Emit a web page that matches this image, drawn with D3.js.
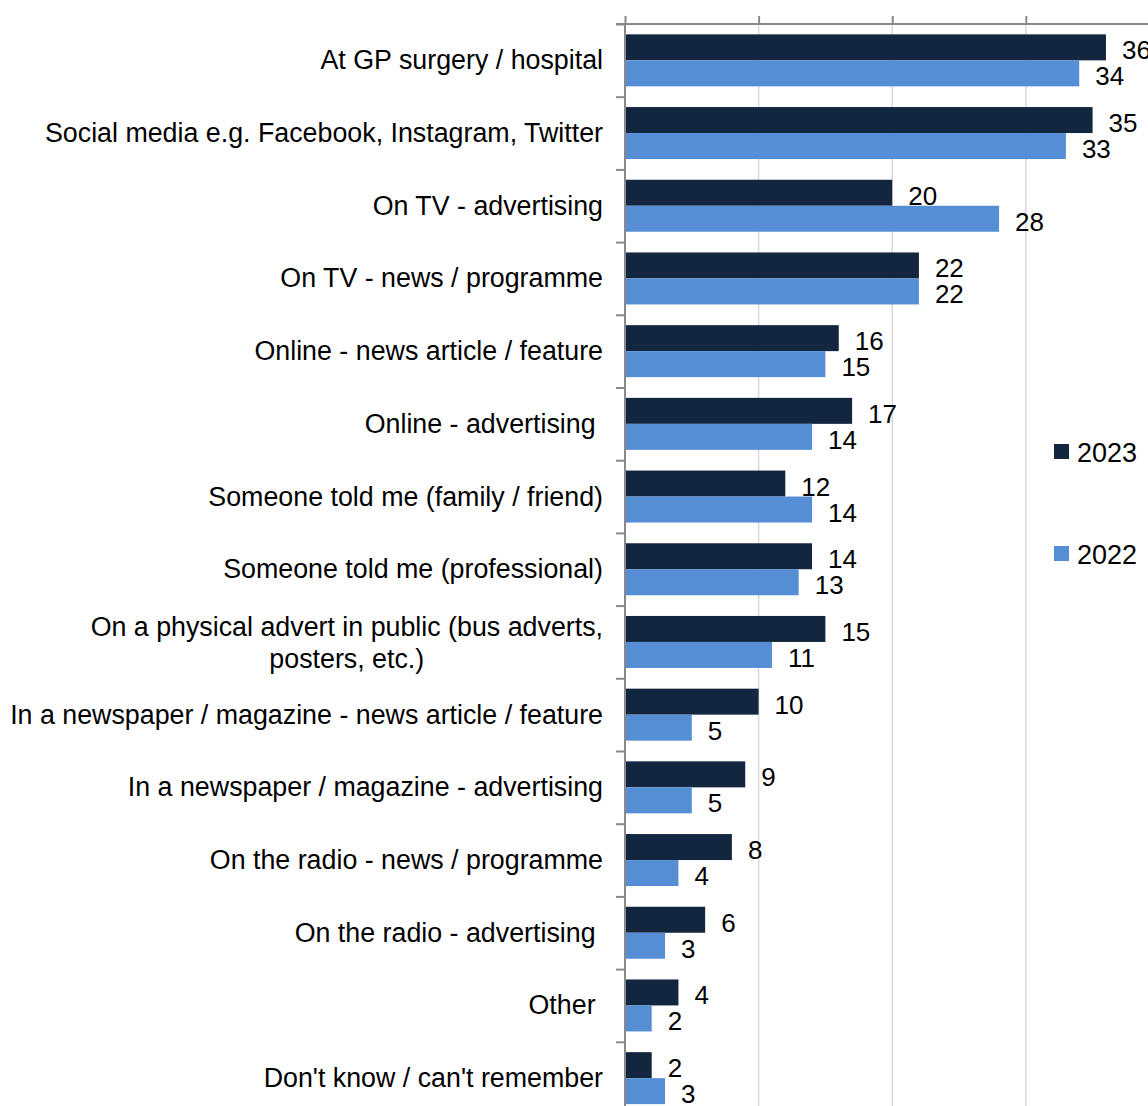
<!DOCTYPE html>
<html>
<head>
<meta charset="utf-8">
<script src="https://cdn.jsdelivr.net/npm/d3@7"></script>
<style>
  body { margin: 0; background: white; }
  text { font-family: "Liberation Sans", Arial, sans-serif; fill: #000; white-space: pre; }
</style>
</head>
<body>
<script>
// data
var categories = [
  "At GP surgery / hospital",
  "Social media e.g. Facebook, Instagram, Twitter",
  "On TV - advertising",
  "On TV - news / programme",
  "Online - news article / feature",
  "Online - advertising ",
  "Someone told me (family / friend)",
  "Someone told me (professional)",
  "On a physical advert in public (bus adverts,|posters, etc.)",
  "In a newspaper / magazine - news article / feature",
  "In a newspaper / magazine - advertising",
  "On the radio - news / programme",
  "On the radio - advertising ",
  "Other ",
  "Don't know / can't remember"
];
var years = ["2023", "2022"];
var values2023 = [36, 35, 20, 22, 16, 17, 12, 14, 15, 10, 9, 8, 6, 4, 2];
var values2022 = [34, 33, 28, 22, 15, 14, 14, 13, 11, 5, 5, 4, 3, 2, 3];
var xTicks = [0, 10, 20, 30, 40];

var width = 1148, height = 1106;
var plotLeft = 625, plotTop = 24, step = 72.7;
var colors = {"2023": "#12263f", "2022": "#558ed5"};

var svg = d3.select("body").append("svg")
    .attr("width", width)
    .attr("height", height);

var x = d3.scaleLinear()
    .domain([0, 40])
    .range([plotLeft, plotLeft + 534.4]);

var y = d3.scaleBand()
    .domain(categories)
    .range([plotTop, plotTop + step * categories.length])
    .paddingInner(0.285)
    .paddingOuter(0.1425);

var ySub = d3.scaleBand()
    .domain(years)
    .range([0, y.bandwidth()]);

// band boundaries for the category ticks
var yEdge = d3.scaleLinear()
    .domain([0, categories.length])
    .range([plotTop, plotTop + step * categories.length]);

// gridlines
svg.append("g")
  .selectAll("line")
  .data(xTicks.slice(1))
  .enter().append("line")
    .attr("x1", function(d) { return x(d); })
    .attr("x2", function(d) { return x(d); })
    .attr("y1", plotTop)
    .attr("y2", height)
    .style("stroke", "#d9d9d9")
    .style("stroke-width", 1.5);

// bars
var rows = categories.map(function(c, i) {
  return {cat: c, vals: [{year: "2023", v: values2023[i]}, {year: "2022", v: values2022[i]}]};
});

var group = svg.append("g")
  .selectAll("g")
  .data(rows)
  .enter().append("g")
    .attr("transform", function(d) { return "translate(0," + y(d.cat) + ")"; });

group.selectAll("rect")
  .data(function(d) { return d.vals; })
  .enter().append("rect")
    .attr("x", x(0))
    .attr("y", function(d) { return ySub(d.year); })
    .attr("width", function(d) { return x(d.v) - x(0); })
    .attr("height", ySub.bandwidth())
    .style("fill", function(d) { return colors[d.year]; });

group.selectAll("text")
  .data(function(d) { return d.vals; })
  .enter().append("text")
    .attr("x", function(d) { return x(d.v) + 16; })
    .attr("y", function(d) { return ySub(d.year) + ySub.bandwidth() / 2 + 3; })
    .attr("dominant-baseline", "central")
    .style("font-size", "26px")
    .text(function(d) { return d.v; });

// axes
var xAxis = d3.axisTop(x)
    .tickValues(xTicks)
    .tickSize(8)
    .tickSizeOuter(0)
    .tickFormat("");

var gx = svg.append("g")
    .attr("transform", "translate(0," + plotTop + ")")
    .call(xAxis);
gx.select(".domain").attr("d", "M" + (plotLeft - 9) + ",0H" + width);

var yAxis = d3.axisLeft(yEdge)
    .tickValues(d3.range(categories.length + 1))
    .tickSize(9)
    .tickSizeOuter(0)
    .tickFormat("");

var gy = svg.append("g")
    .attr("transform", "translate(" + plotLeft + ",0)")
    .call(yAxis);
gy.select(".domain").attr("d", "M0," + plotTop + "V" + height);

svg.selectAll(".domain, .tick line")
    .style("stroke", "#898989")
    .style("stroke-width", 2);

// category labels
svg.append("g")
  .selectAll("text")
  .data(categories)
  .enter().append("text")
    .style("font-size", "26.8px")
    .each(function(d) {
      var t = d3.select(this);
      var lines = d.split("|");
      var cy = y(d) + y.bandwidth() / 2;
      if (lines.length == 1) {
        t.attr("x", 603).attr("y", cy).attr("text-anchor", "end")
         .attr("dominant-baseline", "central").text(d);
      } else {
        var spans = t.attr("text-anchor", "middle").selectAll("tspan")
          .data(lines).enter().append("tspan")
            .attr("y", function(l, i) { return cy + 1 + (i - 0.5) * 32; })
            .attr("dominant-baseline", "central")
            .text(function(l) { return l; });
        var w = spans.node().getComputedTextLength();
        spans.attr("x", 603 - w / 2);
      }
    });

// legend
var legend = svg.append("g")
  .selectAll("g")
  .data(years)
  .enter().append("g")
    .attr("transform", function(d, i) { return "translate(1054," + (444 + i * 102) + ")"; });

legend.append("rect")
    .attr("width", 15)
    .attr("height", 15)
    .style("fill", function(d) { return colors[d]; });

legend.append("text")
    .attr("x", 23)
    .attr("y", 8.5)
    .attr("dominant-baseline", "central")
    .style("font-size", "27px")
    .text(function(d) { return d; });
</script>
</body>
</html>
